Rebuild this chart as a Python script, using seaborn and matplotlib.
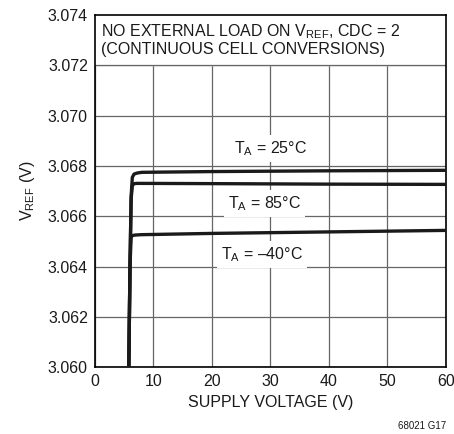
import matplotlib
matplotlib.use("Agg")
import matplotlib.pyplot as plt
import seaborn as sns
import pandas as pd

sns.set_theme(style="white")
FONT = ["Liberation Sans Narrow", "Liberation Sans", "DejaVu Sans"]
plt.rcParams["font.family"] = FONT
plt.rcParams["mathtext.fontset"] = "custom"
plt.rcParams["mathtext.rm"] = "Liberation Sans"
plt.rcParams["mathtext.it"] = "Liberation Sans"

# Data
supply_v = [5.8, 6.0, 6.2, 6.4, 6.7, 7.2, 8.0, 20.0, 40.0, 60.0]
vref_25 = [3.0600, 3.0640, 3.0668, 3.06755, 3.06768, 3.06772, 3.06775, 3.06778, 3.06781, 3.06783]
vref_85 = [3.0600, 3.0640, 3.0667, 3.06722, 3.06730, 3.06731, 3.06731, 3.06730, 3.06728, 3.06727]
vref_m40 = [3.0600, 3.0640, 3.06520, 3.06523, 3.06525, 3.06526, 3.06527, 3.06532, 3.06538, 3.06544]
series = ["25", "85", "-40"]
labels = [r"T$_{\mathrm{A}}$ = 25°C", r"T$_{\mathrm{A}}$ = 85°C", r"T$_{\mathrm{A}}$ = –40°C"]
label_xy = [(30, 3.0687), (29, 3.06652), (28.6, 3.06448)]
x_ticks = [0, 10, 20, 30, 40, 50, 60]
y_ticks = [3.060, 3.062, 3.064, 3.066, 3.068, 3.070, 3.072, 3.074]

df = pd.concat([
    pd.DataFrame({"x": supply_v, "y": v, "T": s})
    for v, s in zip([vref_25, vref_85, vref_m40], series)
])

fig = plt.figure(figsize=(4.54, 4.34), dpi=100)
ax = fig.add_axes([0.209, 0.154, 0.773, 0.811])

sns.lineplot(data=df, x="x", y="y", units="T", estimator=None, sort=False,
             color="#1a1a1a", lw=2.4, ax=ax, legend=False, zorder=3)

ax.set_xlim(0, 60)
ax.set_ylim(3.060, 3.074)
ax.set_xticks(x_ticks)
ax.set_yticks(y_ticks)
ax.set_xticklabels([str(t) for t in x_ticks])
ax.set_yticklabels([f"{t:.3f}" for t in y_ticks])
ax.grid(True, color="#666666", lw=0.9)
ax.set_axisbelow(True)
for sp in ax.spines.values():
    sp.set_color("black")
    sp.set_linewidth(1.2)
ax.tick_params(axis="both", direction="in", length=4, width=1, color="black",
               labelsize=11.5, labelcolor="#1a1a1a", pad=5)

ax.set_xlabel("SUPPLY VOLTAGE (V)", fontsize=11.5, color="#1a1a1a", labelpad=4)
ax.set_ylabel(r"V$_{\mathrm{REF}}$ (V)", fontsize=11.5, color="#1a1a1a", labelpad=8)

# Top annotation box covering the grid
ax.axhspan(3.072, 3.074, color="white", zorder=2)
ax.axhline(3.072, color="#666666", lw=0.9, zorder=2.5)
ax.text(1.1, 3.0737, r"NO EXTERNAL LOAD ON V$_{\mathrm{REF}}$, CDC = 2" + "\n(CONTINUOUS CELL CONVERSIONS)",
        fontsize=11.5, color="#1a1a1a", va="top", ha="left", zorder=4, linespacing=1.05)

for lab, (lx, ly) in zip(labels, label_xy):
    ax.text(lx, ly, lab, fontsize=11.5, color="#1a1a1a", ha="center", va="center", zorder=4,
            bbox=dict(boxstyle="square,pad=0.25", fc="white", ec="none"))

fig.text(0.982, 0.008, "68021 G17", fontsize=7, ha="right", va="bottom", color="#1a1a1a")

fig.savefig("out.png", dpi=100)
